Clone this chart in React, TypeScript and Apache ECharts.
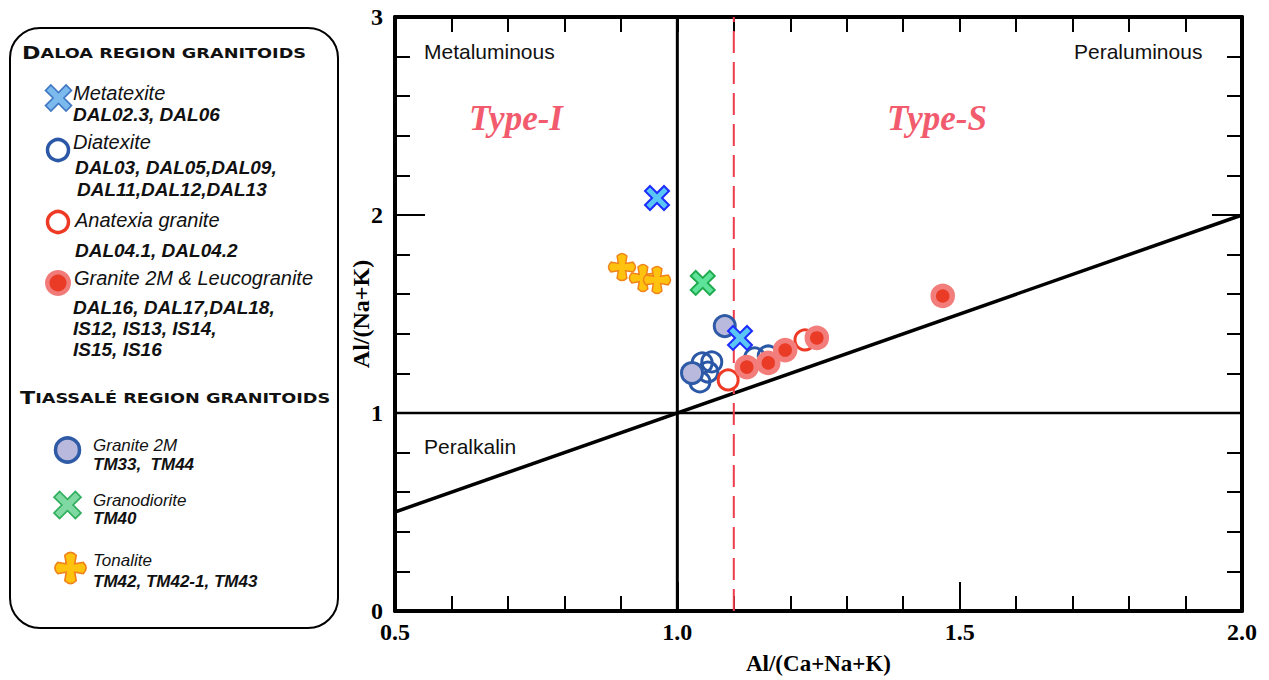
import React, { useEffect, useRef } from "react";
import * as echarts from "echarts";

// ---------- data ----------
const xTickLabels = ["0.5", "1.0", "1.5", "2.0"];
const yTickLabels = ["0", "1", "2", "3"];

const metatexite = [[0.964, 2.086], [1.111, 1.379]];
const diatexite = [[1.044, 1.253], [1.061, 1.258], [1.040, 1.157], [1.054, 1.207], [1.137, 1.278], [1.161, 1.288]];
const anatexia = [[1.090, 1.167], [1.226, 1.369]];
const granite2mLeuco = [[1.123, 1.232], [1.161, 1.253], [1.191, 1.318], [1.247, 1.379], [1.470, 1.591]];
const tiassaleGranite2m = [[1.084, 1.439], [1.026, 1.202]];
const granodiorite = [[1.045, 1.657]];
const tonalite = [[0.902, 1.737], [0.939, 1.682], [0.964, 1.672]];

const lineAlkaline = [[0.5, 1], [2, 1]];
const lineMeta = [[1, 0], [1, 3]];
const lineDiag = [[0.5, 0.5], [2, 2]];
const lineTypeIS = [[1.1, 0], [1.1, 3]];

// ---------- shapes ----------
const X_D = "M5 0 L12 7 L19 0 L24 5 L17 12 L24 19 L19 24 L12 17 L5 24 L0 19 L7 12 L0 5 Z";
const PLUS_D = "M8 3 Q12 -1 16 3 L15 9 L21 8 Q25 12 21 16 L15 15 L16 21 Q12 25 8 21 L9 15 L3 16 Q-1 12 3 8 L9 9 Z";

let registered = false;
function registerShapes() {
  if (registered) return;
  registered = true;
  echarts.graphic.registerShape("xmark", echarts.graphic.extendPath(X_D, {}));
  echarts.graphic.registerShape("plusmark", echarts.graphic.extendPath(PLUS_D, {}));
}

const SANS = "Liberation Sans";
const SERIF = "Liberation Serif";

function txt(text: string, x: number, y: number, size: number, opts: any = {}) {
  return {
    type: "text",
    x,
    y,
    z: 100,
    scaleX: opts.scaleX || 1,
    style: {
      text,
      fill: opts.fill || "#111",
      fontSize: size,
      fontFamily: opts.family || SANS,
      fontStyle: opts.style || "normal",
      fontWeight: opts.weight || "normal",
      align: opts.align || "left",
      textAlign: opts.align || "left",
      verticalAlign: "middle",
      textVerticalAlign: "middle",
      rich: opts.rich,
    },
  };
}

function mark(type: string, cx: number, cy: number, size: number, fill: string, stroke: string, lw: number) {
  const s = size / 24;
  return {
    type,
    x: cx - 12 * s,
    y: cy - 12 * s,
    scaleX: s,
    scaleY: s,
    z: 100,
    style: { fill, stroke, lineWidth: lw },
  };
}

const titleRich = {
  a: { fontSize: 17, fontWeight: "bold", fontFamily: "DejaVu Sans", fill: "#111" },
  b: { fontSize: 13.5, fontWeight: "bold", fontFamily: "DejaVu Sans", fill: "#111" },
};

function axisCommon(pos: string, isX: boolean, showLabel: boolean, majorLen: number) {
  return {
    type: "value",
    position: pos,
    min: isX ? 0.5 : 0,
    max: isX ? 2 : 3,
    interval: isX ? 0.5 : 1,
    axisLine: { show: true, onZero: false, lineStyle: { color: "#000", width: 4 } },
    axisTick: { show: true, inside: true, length: majorLen, lineStyle: { color: "#000", width: 2 } },
    minorTick: { show: true, splitNumber: 5, length: 15, lineStyle: { color: "#000", width: 2 } },
    splitLine: { show: false },
    minorSplitLine: { show: false },
    axisLabel: {
      show: showLabel,
      showMinLabel: true,
      showMaxLabel: true,
      formatter: (v: number) => {
        const labels = isX ? xTickLabels : yTickLabels;
        const idx = Math.round(isX ? (v - 0.5) / 0.5 : v);
        return labels[idx] ?? "";
      },
      fontFamily: SERIF,
      fontWeight: "bold",
      fontSize: 24,
      color: "#000",
      margin: isX ? 9 : 12,
    },
  };
}

function refLine(data: number[][], color: string, width: number, type: any = "solid") {
  return {
    type: "line",
    data,
    symbol: "none",
    silent: true,
    z: 1,
    lineStyle: { color, width, type },
  };
}

export default function App() {
  const ref = useRef<HTMLDivElement>(null);
  useEffect(() => {
    registerShapes();
    const chart = echarts.init(ref.current!, null, { renderer: "svg" });
    const option: any = {
      animation: false,
      backgroundColor: "#fff",
      grid: { left: 395, top: 17, width: 847, height: 594, containLabel: false },
      xAxis: [
        {
          ...axisCommon("bottom", true, true, 29),
          name: "Al/(Ca+Na+K)",
          nameLocation: "middle",
          nameGap: 41,
          nameMoveOverlap: false,
          nameTextStyle: { fontFamily: SERIF, fontWeight: "bold", fontSize: 23, color: "#000" },
        },
        axisCommon("top", true, false, 15),
      ],
      yAxis: [
        {
          ...axisCommon("left", false, true, 30),
          name: "Al/(Na+K)",
          nameLocation: "middle",
          nameGap: 22,
          nameRotate: 90,
          nameMoveOverlap: false,
          nameTextStyle: { fontFamily: SERIF, fontWeight: "bold", fontSize: 24, color: "#000" },
        },
        axisCommon("right", false, false, 30),
      ],
      series: [
        refLine(lineAlkaline, "#000", 2.5),
        refLine(lineMeta, "#000", 3),
        refLine(lineDiag, "#000", 3.5),
        refLine(lineTypeIS, "#ef3b4b", 2, [22, 9]),
        {
          name: "Tonalite",
          type: "scatter",
          data: tonalite,
          symbol: "path://" + PLUS_D,
          symbolSize: 27,
          z: 3,
          itemStyle: { color: "#ffc20e", borderColor: "#f0841a", borderWidth: 1.5, opacity: 1 },
        },
        {
          name: "Granodiorite",
          type: "scatter",
          data: granodiorite,
          symbol: "path://" + X_D,
          symbolSize: 24,
          z: 3,
          itemStyle: { color: "#5fe39b", borderColor: "#1faa4e", borderWidth: 2, opacity: 1 },
        },
        {
          name: "Diatexite",
          type: "scatter",
          data: diatexite,
          symbol: "circle",
          symbolSize: 20,
          z: 4,
          itemStyle: { color: "rgba(255,255,255,0)", borderColor: "#2b58a6", borderWidth: 3, opacity: 1 },
        },
        {
          name: "Granite 2M (Tiassalé)",
          type: "scatter",
          data: tiassaleGranite2m,
          symbol: "circle",
          symbolSize: 21,
          z: 5,
          itemStyle: { color: "#b9b9dd", borderColor: "#2f5aa6", borderWidth: 3, opacity: 1 },
        },
        {
          name: "Anatexia granite",
          type: "scatter",
          data: anatexia,
          symbol: "circle",
          symbolSize: 20,
          z: 6,
          itemStyle: { color: "#fff", borderColor: "#ee3a24", borderWidth: 3, opacity: 1 },
        },
        {
          name: "Granite 2M & Leucogranite",
          type: "scatter",
          data: granite2mLeuco,
          symbol: "circle",
          symbolSize: 19,
          z: 7,
          itemStyle: { color: "#e93b25", borderColor: "#f27d7a", borderWidth: 5.5, opacity: 1 },
        },
        {
          name: "Metatexite",
          type: "scatter",
          data: metatexite,
          symbol: "path://" + X_D,
          symbolSize: 24,
          z: 8,
          itemStyle: { color: "#5ac6f6", borderColor: "#1d2cff", borderWidth: 2, opacity: 1 },
        },
      ],
      graphic: [
        // region labels
        txt("Metaluminous", 424, 51, 21),
        txt("Peraluminous", 1074, 51, 21),
        txt("Peralkalin", 424, 446, 21),
        txt("Type-I", 516, 118, 35, { family: SERIF, style: "italic", weight: "bold", fill: "#f25b6e", align: "center" }),
        txt("Type-S", 937, 118, 35, { family: SERIF, style: "italic", weight: "bold", fill: "#f25b6e", align: "center" }),
        // legend box
        {
          type: "rect",
          z: 90,
          shape: { x: 10, y: 28, width: 328, height: 600, r: 30 },
          style: { fill: "#fff", stroke: "#000", lineWidth: 2 },
        },
        txt("{a|D}{b|ALOA REGION GRANITOIDS}", 22, 53, 14, { rich: titleRich, scaleX: 1.31 }),
        mark("xmark", 58.5, 98, 26, "#7cb9ec", "#3f77c4", 1.5),
        txt("Metatexite", 73, 93, 20, { style: "italic" }),
        txt("DAL02.3, DAL06", 73, 114, 19, { style: "italic", weight: "bold" }),
        { type: "circle", z: 100, shape: { cx: 58, cy: 150, r: 10.5 }, style: { fill: "#fff", stroke: "#2b58a6", lineWidth: 3.5 } },
        txt("Diatexite", 73, 142, 20, { style: "italic" }),
        txt("DAL03, DAL05,DAL09,", 75, 167, 19, { style: "italic", weight: "bold" }),
        txt("DAL11,DAL12,DAL13", 77, 189, 19, { style: "italic", weight: "bold" }),
        { type: "circle", z: 100, shape: { cx: 58, cy: 222, r: 10.5 }, style: { fill: "#fff", stroke: "#ee3a24", lineWidth: 3.5 } },
        txt("Anatexia granite", 75, 220, 20, { style: "italic" }),
        txt("DAL04.1, DAL04.2", 75, 250, 19, { style: "italic", weight: "bold" }),
        { type: "circle", z: 100, shape: { cx: 58, cy: 283, r: 13 }, style: { fill: "#f07b78" } },
        { type: "circle", z: 101, shape: { cx: 58, cy: 283, r: 8.5 }, style: { fill: "#e93b25" } },
        txt("Granite 2M & Leucogranite", 74, 278, 20, { style: "italic" }),
        txt("DAL16, DAL17,DAL18,", 73, 307, 19, { style: "italic", weight: "bold" }),
        txt("IS12, IS13, IS14,", 73, 328, 19, { style: "italic", weight: "bold" }),
        txt("IS15, IS16", 73, 349, 19, { style: "italic", weight: "bold" }),
        txt("{a|T}{b|IASSALÉ REGION GRANITOIDS}", 20, 398, 14, { rich: titleRich, scaleX: 1.31 }),
        { type: "circle", z: 100, shape: { cx: 67.5, cy: 450, r: 12 }, style: { fill: "#b9b9dd", stroke: "#2f5aa6", lineWidth: 3.5 } },
        txt("Granite 2M", 93, 445, 17, { style: "italic" }),
        txt("TM33,  TM44", 93, 464, 17, { style: "italic", weight: "bold" }),
        mark("xmark", 67.5, 505, 27, "#80d8a2", "#2fae5c", 1.5),
        txt("Granodiorite", 93, 500, 17, { style: "italic" }),
        txt("TM40", 93, 518, 17, { style: "italic", weight: "bold" }),
        mark("plusmark", 70.5, 568, 34, "#ffc20e", "#f0841a", 1.2),
        txt("Tonalite", 93, 560, 17, { style: "italic" }),
        txt("TM42, TM42-1, TM43", 93, 581, 17, { style: "italic", weight: "bold" }),
      ],
    };
    chart.setOption(option);
    return () => chart.dispose();
  }, []);
  return (
    <div
      ref={ref}
      style={{ position: "fixed", left: 0, top: 0, width: 1269, height: 680, background: "#fff" }}
    />
  );
}
